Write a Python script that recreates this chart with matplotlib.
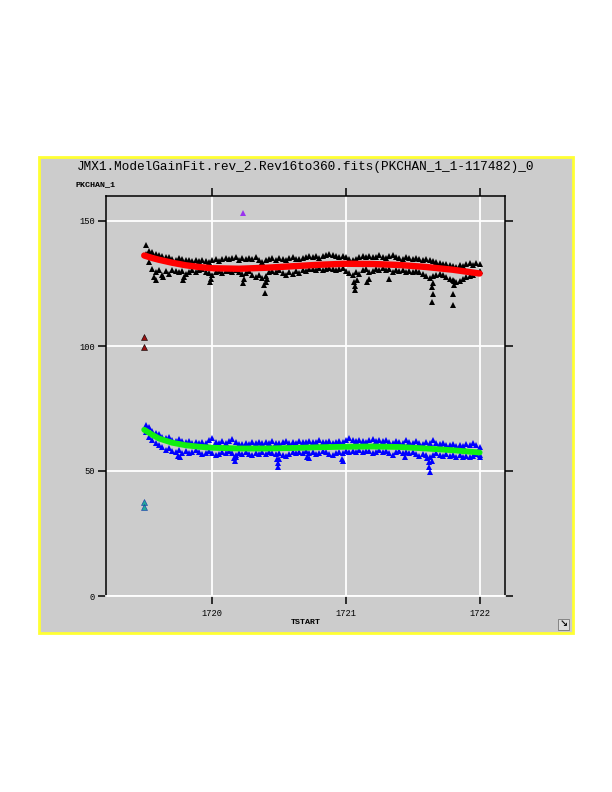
import numpy as np
import matplotlib
matplotlib.use('Agg')
import matplotlib.pyplot as plt
from matplotlib.patches import Rectangle

# time stamps of the main sampled band (TSTART)
t = [1719.500, 1719.525, 1719.550, 1719.575, 1719.600, 1719.625, 1719.650, 1719.675, 1719.700, 1719.725,
     1719.750, 1719.775, 1719.800, 1719.825, 1719.850, 1719.875, 1719.900, 1719.925, 1719.950, 1719.975,
     1720.000, 1720.025, 1720.050, 1720.075, 1720.100, 1720.125, 1720.150, 1720.175, 1720.200, 1720.225,
     1720.250, 1720.275, 1720.300, 1720.325, 1720.350, 1720.375, 1720.400, 1720.425, 1720.450, 1720.475,
     1720.500, 1720.525, 1720.550, 1720.575, 1720.600, 1720.625, 1720.650, 1720.675, 1720.700, 1720.725,
     1720.750, 1720.775, 1720.800, 1720.825, 1720.850, 1720.875, 1720.900, 1720.925, 1720.950, 1720.975,
     1721.000, 1721.025, 1721.050, 1721.075, 1721.100, 1721.125, 1721.150, 1721.175, 1721.200, 1721.225,
     1721.250, 1721.275, 1721.300, 1721.325, 1721.350, 1721.375, 1721.400, 1721.425, 1721.450, 1721.475,
     1721.500, 1721.525, 1721.550, 1721.575, 1721.600, 1721.625, 1721.650, 1721.675, 1721.700, 1721.725,
     1721.750, 1721.775, 1721.800, 1721.825, 1721.850, 1721.875, 1721.900, 1721.925, 1721.950, 1721.975,
     1722.000]

# black series (upper band) - top and bottom of the scatter at each time
black_hi = [140.5, 138.0, 137.5, 136.8, 136.5, 136.0, 135.5, 135.8, 135.0, 134.6,
            135.2, 134.8, 134.4, 134.6, 134.2, 134.5, 134.0, 134.6, 134.2, 133.8,
            134.5, 134.8, 134.2, 135.0, 135.4, 134.8, 135.2, 135.6, 134.6, 135.2,
            134.8, 135.4, 135.0, 135.6, 134.6, 133.8, 134.4, 135.0, 135.4, 134.6,
            135.2, 135.0, 134.4, 135.2, 135.6, 135.0, 134.8, 135.4, 135.8, 136.2,
            135.6, 136.0, 135.4, 136.2, 136.6, 137.0, 136.4, 136.0, 135.6, 136.2,
            135.6, 134.8, 134.4, 135.0, 135.6, 136.0, 135.8, 136.2, 135.6, 135.8,
            136.4, 135.6, 135.2, 136.0, 136.4, 135.8, 135.2, 134.8, 135.6, 135.2,
            134.8, 135.4, 135.0, 134.4, 134.8, 134.6, 134.2, 133.6, 133.2, 132.8,
            133.0, 132.4, 132.2, 131.8, 132.4, 132.0, 132.8, 133.2, 132.6, 133.4,
            132.8]
black_lo = [137.0, 133.5, 131.0, 129.5, 130.5, 128.5, 130.0, 129.0, 130.6, 130.0,
            129.6, 130.2, 128.8, 129.6, 130.4, 129.8, 130.4, 130.8, 129.6, 129.2,
            128.4, 129.6, 130.0, 129.4, 130.2, 130.0, 129.8, 130.4, 129.6, 128.8,
            129.4, 130.0, 128.6, 127.6, 128.4, 127.2, 128.2, 129.6, 130.0, 129.8,
            130.4, 129.2, 128.6, 129.6, 128.8, 130.2, 129.4, 130.6, 130.2, 131.0,
            130.8, 130.4, 131.2, 130.6, 130.8, 131.4, 131.0, 130.4, 130.8, 131.2,
            130.2, 129.4, 128.6, 129.8, 128.8, 130.4, 130.8, 129.6, 130.2, 131.0,
            130.6, 131.2, 130.4, 130.8, 129.8, 130.6, 130.2, 130.4, 129.8, 130.2,
            129.6, 130.2, 129.6, 128.8, 128.2, 127.4, 128.0, 128.6, 129.0, 128.4,
            127.8, 127.0, 126.4, 125.8, 126.2, 127.0, 127.6, 128.2, 128.6, 129.4,
            130.0]
black_dip_t = [1719.56, 1719.58, 1719.63, 1719.78, 1719.79, 1719.98, 1719.99, 1720.23, 1720.24, 1720.39,
               1720.395, 1720.40, 1720.41, 1721.06, 1721.07, 1721.07, 1721.08, 1721.16, 1721.17, 1721.32,
               1721.64, 1721.645, 1721.65, 1721.65, 1721.80, 1721.80, 1721.805, 1721.81]
black_dip_y = [127.6, 126.6, 127.8, 126.4, 127.6, 125.6, 127.0, 125.2, 126.8, 124.4,
               121.2, 125.6, 127.0, 125.7, 122.4, 124.0, 126.6, 125.6, 127.0, 126.8,
               123.6, 117.6, 120.8, 125.2, 116.4, 120.8, 124.4, 126.2]

# blue series (lower band)
blue_hi = [68.4, 67.6, 66.0, 65.2, 64.8, 63.8, 63.2, 63.8, 62.6, 62.2,
           62.8, 62.0, 61.6, 62.2, 61.4, 61.8, 61.2, 61.8, 61.4, 62.4,
           63.4, 61.8, 61.2, 62.0, 61.4, 62.2, 62.8, 61.6, 61.0, 60.8,
           61.4, 61.0, 61.6, 61.2, 61.8, 61.4, 61.6, 61.2, 62.0, 61.4,
           61.2, 61.6, 62.2, 61.4, 61.8, 61.4, 62.0, 61.6, 61.8, 62.2,
           61.6, 61.8, 62.4, 61.8, 61.6, 62.0, 61.4, 61.8, 62.2, 61.6,
           62.4, 63.4, 62.6, 62.0, 62.6, 62.2, 61.8, 62.4, 62.8, 62.2,
           62.6, 62.0, 62.4, 61.8, 61.4, 62.2, 61.8, 61.4, 62.4, 61.6,
           61.2, 62.2, 61.4, 61.0, 61.6, 61.2, 62.6, 61.4, 60.8, 61.2,
           60.6, 60.4, 61.0, 60.2, 60.6, 60.0, 60.8, 60.4, 61.4, 60.6,
           59.8]
blue_lo = [65.6, 63.8, 62.4, 61.2, 60.6, 59.6, 58.4, 59.2, 58.2, 57.6,
           58.4, 57.4, 58.0, 57.2, 57.8, 58.4, 57.6, 56.8, 57.4, 58.0,
           57.2, 56.4, 57.0, 57.8, 57.4, 58.0, 57.2, 56.6, 57.4, 56.8,
           57.6, 57.0, 56.4, 57.2, 56.8, 57.6, 57.0, 57.8, 57.2, 56.8,
           57.4, 56.6, 56.2, 57.0, 57.6, 57.2, 57.8, 57.4, 58.0, 57.2,
           57.6, 56.8, 57.4, 58.0, 57.6, 57.0, 56.6, 57.2, 57.8, 57.4,
           58.0, 57.6, 58.2, 57.8, 58.4, 57.6, 58.0, 58.2, 57.4, 57.8,
           58.4, 57.6, 58.0, 57.2, 56.4, 57.6, 58.0, 57.4, 57.8, 57.2,
           57.8, 57.0, 56.2, 56.8, 56.4, 55.8, 56.6, 57.2, 56.6, 56.0,
           56.8, 56.2, 56.6, 55.8, 56.4, 55.8, 56.2, 55.6, 56.2, 56.8,
           56.4]
blue_dip_t = [1719.74, 1719.76, 1720.16, 1720.17, 1720.18, 1720.48, 1720.49, 1720.49, 1720.50, 1720.71,
              1720.72, 1720.97, 1720.98, 1721.44, 1721.61, 1721.62, 1721.62, 1721.63, 1721.64, 1722.00]
blue_dip_y = [56.2, 55.6, 55.2, 54.2, 55.6, 54.8, 53.4, 51.8, 55.0, 55.8,
              55.2, 55.0, 54.2, 55.6, 55.4, 53.6, 51.6, 49.6, 54.0, 55.6]

# fitted models
fit_t = [1719.49, 1719.55, 1719.60, 1719.70, 1719.80, 1719.90, 1720.00, 1720.20, 1720.40,
         1720.60, 1720.80, 1721.00, 1721.20, 1721.40, 1721.60, 1721.80, 1722.00]
red_fit = [136.2, 135.2, 134.5, 133.3, 132.3, 131.6, 131.1, 130.9, 131.3,
           131.9, 132.5, 132.9, 132.8, 132.4, 131.6, 130.5, 129.0]
green_fit = [66.5, 64.5, 63.0, 61.3, 60.3, 59.7, 59.3, 59.0, 59.0,
             59.2, 59.5, 59.7, 59.8, 59.6, 59.0, 58.3, 57.4]

# isolated points
purple_t, purple_y = [1720.23], [153.4]
dred_t, dred_y = [1719.49, 1719.49], [103.8, 99.6]
teal_t, teal_y = [1719.49, 1719.49], [37.6, 35.8]

W, H = 612, 792
fig = plt.figure(figsize=(6.12, 7.92), dpi=100)
fig.patch.set_facecolor('white')

# yellow-framed gray panel (behind the axes)
fig.patches.append(Rectangle((39 / W, (H - 633) / H), 534 / W, 476 / H, transform=fig.transFigure,
                             facecolor='#cccccc', edgecolor='#ffff33', linewidth=2.0, zorder=-5))

ax = fig.add_axes([106 / W, (H - 596) / H, 399 / W, 400 / H])
ax.set_facecolor('#cccccc')
ax.set_zorder(1)

ms = 4.9
ax.plot(t, black_hi, '^', color='black', ms=ms, mew=0)
ax.plot(t, black_lo, '^', color='black', ms=ms, mew=0)
ax.plot(black_dip_t, black_dip_y, '^', color='black', ms=ms, mew=0)
ax.plot(fit_t, red_fit, '-', color='#ff0000', lw=4.6, solid_capstyle='round')

ax.plot(t, blue_hi, '^', color='#0000ff', ms=ms, mew=0)
ax.plot(t, blue_lo, '^', color='#0000ff', ms=ms, mew=0)
ax.plot(blue_dip_t, blue_dip_y, '^', color='#0000ff', ms=ms, mew=0)
ax.plot(fit_t, green_fit, '-', color='#11ee11', lw=4.2, solid_capstyle='round')

ax.plot(purple_t, purple_y, '^', color='#9933ee', ms=4.4, mew=0)
ax.plot(dred_t, dred_y, '^', color='#991111', ms=4.4, mec='black', mew=0.4)
ax.plot(teal_t, teal_y, '^', color='#22aa99', ms=4.4, mec='#1133aa', mew=0.4)

ax.set_xlim(1719.204, 1722.19)
ax.set_ylim(0, 160)
ax.set_xticks([1720, 1721, 1722])
ax.set_xticklabels(['1720', '1721', '1722'])
ax.set_yticks([0, 50, 100, 150])
ax.set_yticklabels(['0', '50', '100', '150'])
ax.grid(True, color='white', lw=1.3)
ax.set_axisbelow(True)

for s in ['left', 'top', 'right']:
    ax.spines[s].set_linewidth(1.1)
    ax.spines[s].set_color('black')
ax.spines['bottom'].set_color('white')
ax.spines['bottom'].set_linewidth(1.3)

ax.tick_params(axis='both', direction='out', length=6, width=1.1, color='black',
               labelsize=6.3, top=True, right=True, labeltop=False, labelright=False)
for lab in ax.get_xticklabels() + ax.get_yticklabels():
    lab.set_family('Liberation Mono')
ax.tick_params(axis='x', pad=3)
ax.tick_params(axis='y', pad=2)

fig.text(306 / W, 1 - 167 / H, 'JMX1.ModelGainFit.rev_2.Rev16to360.fits(PKCHAN_1_1-117482)_0',
         ha='center', va='center', family='Liberation Mono', fontsize=9.2)
fig.text(75 / W, 1 - 185 / H, 'PKCHAN_1', ha='left', va='center',
         family='Liberation Mono', fontsize=6, fontweight='bold')
fig.text(306 / W, 1 - 622 / H, 'TSTART', ha='center', va='center',
         family='Liberation Mono', fontsize=6, fontweight='bold')

# small corner icon
fig.patches.append(Rectangle((558 / W, (H - 630) / H), 11 / W, 11 / H, transform=fig.transFigure,
                             facecolor='#dddddd', edgecolor='#777777', linewidth=0.6, zorder=2))
fig.text(563.5 / W, 1 - 624.5 / H, '\u2198', ha='center', va='center', fontsize=7,
         color='#111111', fontweight='bold', zorder=3)

fig.savefig('out.png', dpi=100)
